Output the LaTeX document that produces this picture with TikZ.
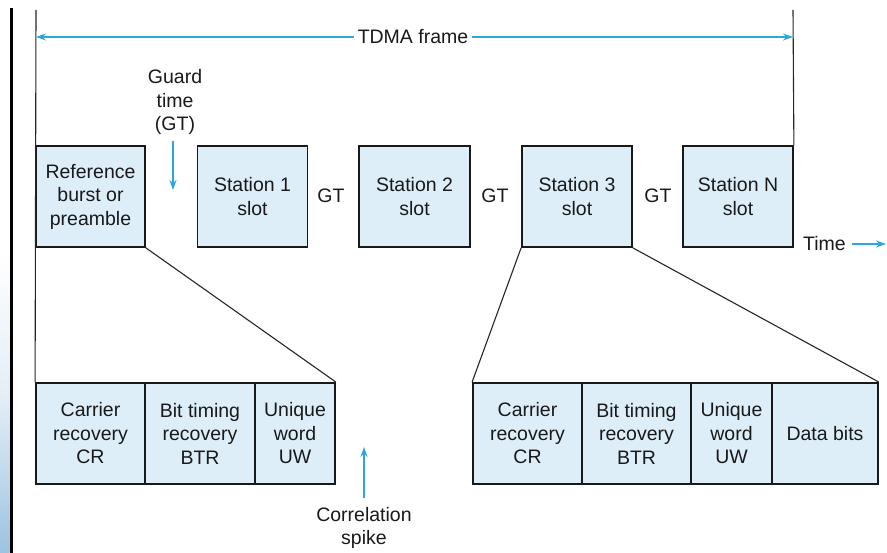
\documentclass[tikz,border=0pt]{standalone}
\usepackage{fontspec}
\setmainfont{Liberation Sans}
\usetikzlibrary{arrows.meta}
\definecolor{boxfill}{HTML}{DDEEF9}
\definecolor{arrowblue}{HTML}{2BA6DE}
\definecolor{stripblue}{HTML}{9CC3E0}
\begin{document}
\begin{tikzpicture}[x=1pt,y=-1pt,
  every node/.style={font=\fontsize{19.5}{23.5}\selectfont, align=center, text=black!90},
  slotbox/.style={draw=black!90, line width=1.8pt, fill=boxfill, inner sep=0pt, minimum height=101pt},
  bluearrow/.style={draw=arrowblue, line width=1.4pt, -{Stealth[length=10pt,width=7pt]}},
  thinline/.style={draw=black!85, line width=1.1pt},
  lbl/.style={inner sep=1pt}]
\useasboundingbox (0,0) rectangle (887,553);
% left decorative strip
\shade[top color=white, bottom color=stripblue, middle color=white!70!stripblue] (0,250) rectangle (9.5,553);
\draw[line width=3pt, black] (11,8) -- (11,553);

% upper slots
\node[slotbox, minimum width=109pt] (ref) at (90.5,196.5) {Reference\\burst or\\preamble};
\node[slotbox, minimum width=110pt] (s1) at (252.5,196.5) {Station 1\\slot};
\node[slotbox, minimum width=111pt] (s2) at (414.5,196.5) {Station 2\\slot};
\node[slotbox, minimum width=110pt] (s3) at (577,196.5) {Station 3\\slot};
\node[slotbox, minimum width=110pt] (sN) at (738,196.5) {Station N\\slot};
\node[lbl] (gt1) at (331,196) {GT};
\node[lbl] (gt2) at (495,196) {GT};
\node[lbl] (gt3) at (658,196) {GT};

% lower left block
\node[slotbox, minimum width=109pt] (lcr) at (90.5,433.5) {Carrier\\recovery\\CR};
\node[slotbox, minimum width=110pt] (lbtr) at (200,433.5) {Bit timing\\recovery\\BTR};
\node[slotbox, minimum width=80pt] (luw) at (295,433.5) {Unique\\word\\UW};

% lower right block
\node[slotbox, minimum width=109pt] (rcr) at (527.5,433.5) {Carrier\\recovery\\CR};
\node[slotbox, minimum width=109pt] (rbtr) at (636.5,433.5) {Bit timing\\recovery\\BTR};
\node[slotbox, minimum width=81pt] (ruw) at (731.5,433.5) {Unique\\word\\UW};
\node[slotbox, minimum width=106pt] (rdb) at (825,433.5) {Data bits};

% frame boundary lines
\coordinate (ltop) at (36,10);
\coordinate (rtop) at (793,10);
\draw[thinline] (ltop) -- (lcr.north west);
\draw[thinline] (rtop) -- (sN.north east);
\draw[thinline] (ref.south east) -- (luw.north east);
\draw[thinline] (s3.south west) -- (rcr.north west);
\draw[thinline] (s3.south east) -- (rdb.north east);

% TDMA frame arrow
\node[lbl, fill=white, inner xsep=4pt] (tdma) at (413,37) {TDMA frame};
\coordinate (tl) at (36,37);
\coordinate (tr) at (793,37);
\draw[bluearrow] (tdma.west) -- (tl);
\draw[bluearrow] (tdma.east) -- (tr);

% guard time
\node[lbl] (guard) at (175,102) {Guard\\time\\(GT)};
\coordinate (ga) at (173,141);
\coordinate (gb) at (173,190);
\draw[bluearrow] (ga) -- (gb);

% time
\node[lbl, anchor=west] (time) at (802,244) {Time};
\coordinate (te) at (886,244);
\draw[bluearrow] (time.east) ++(5,0) coordinate (ts) (ts) -- (te);

% correlation spike
\node[lbl] (corr) at (364,528) {Correlation\\spike};
\coordinate (ca) at (364,498);
\coordinate (cb) at (364,447);
\draw[bluearrow] (ca) -- (cb);
\end{tikzpicture}
\end{document}
